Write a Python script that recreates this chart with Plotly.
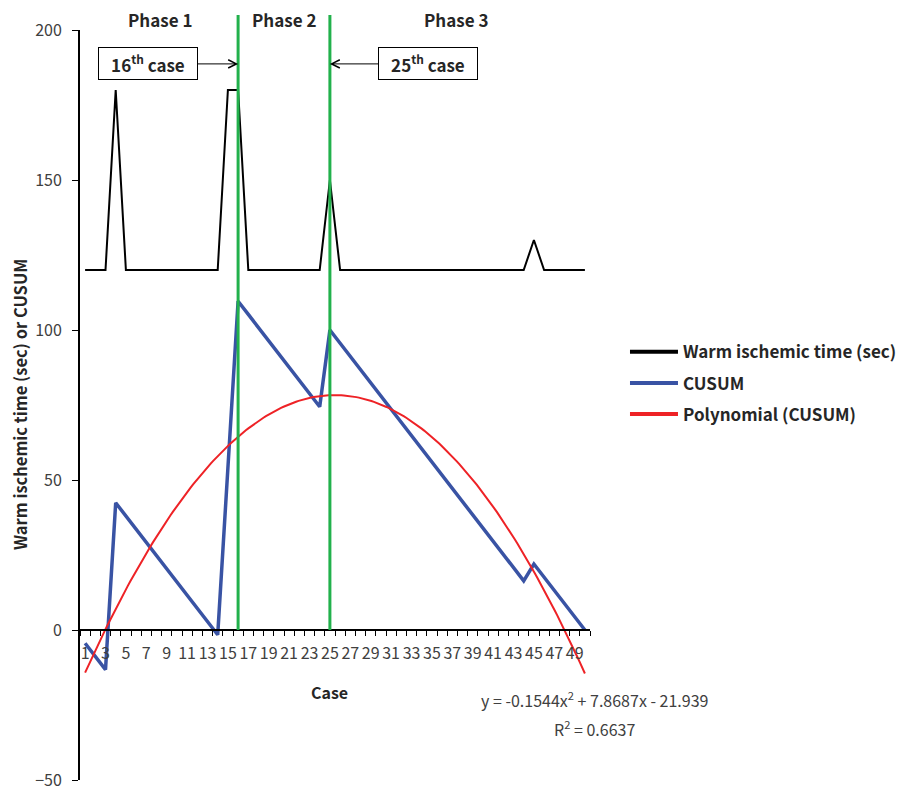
import plotly.graph_objects as go
import numpy as np

# ---------------- data ----------------
cases = list(range(1, 51))
warm_time = [120, 120, 120, 180, 120, 120, 120, 120, 120, 120,
             120, 120, 120, 120, 180, 180, 120, 120, 120, 120,
             120, 120, 120, 120, 150, 120, 120, 120, 120, 120,
             120, 120, 120, 120, 120, 120, 120, 120, 120, 120,
             120, 120, 120, 120, 130, 120, 120, 120, 120, 120]
cusum = [-4.4, -8.8, -13.2, 42.4, 38.0, 33.6, 29.2, 24.8, 20.4, 16.0,
         11.6, 7.2, 2.8, -1.6, 54.0, 109.6, 105.2, 100.8, 96.4, 92.0,
         87.6, 83.2, 78.8, 74.4, 100.0, 95.6, 91.2, 86.8, 82.4, 78.0,
         73.6, 69.2, 64.8, 60.4, 56.0, 51.6, 47.2, 42.8, 38.4, 34.0,
         29.6, 25.2, 20.8, 16.4, 22.0, 17.6, 13.2, 8.8, 4.4, 0.0]
poly_coef = [-0.1544, 7.8687, -21.939]   # trendline shown on chart
phase_cases = [16, 25]
phase_labels = ["Phase 1", "Phase 2", "Phase 3"]
phase_label_x = [8.3, 20.5, 37.4]
x_tick_labels = list(range(1, 50, 2))
y_ticks = [-50, 0, 50, 100, 150, 200]

FONT = "Noto Sans CJK KR, Noto Sans, sans-serif"
TXT = "#262626"
BLACK = "black"
BLUE = "#3953A4"
RED = "#EE2226"
GREEN = "#22B14C"

trend_x = np.linspace(1, 50, 200)
trend_y = np.polyval(poly_coef, trend_x)

fig = go.Figure()
fig.add_trace(go.Scatter(x=cases, y=warm_time, mode="lines", name="Warm ischemic time (sec)",
                         line=dict(color=BLACK, width=2), showlegend=False))
fig.add_trace(go.Scatter(x=cases, y=cusum, mode="lines", name="CUSUM",
                         line=dict(color=BLUE, width=3.5), showlegend=False))
fig.add_trace(go.Scatter(x=trend_x, y=trend_y, mode="lines", name="Polynomial (CUSUM)",
                         line=dict(color=RED, width=2), showlegend=False))
# legend entries (thicker sample lines, as in the reference)
for nm, col, g in [("Warm ischemic time (sec)", BLACK, "a"), ("CUSUM", BLUE, "b"),
                   ("Polynomial (CUSUM)", RED, "c")]:
    fig.add_trace(go.Scatter(x=[None], y=[None], mode="lines", name=nm,
                             line=dict(color=col, width=4), legendgroup=g, showlegend=True))

# green phase lines
for c in phase_cases:
    fig.add_shape(type="line", xref="x", yref="paper", x0=c, x1=c, y0=0.2, y1=1.02,
                  line=dict(color=GREEN, width=3))

annotations = []
for lab, xx in zip(phase_labels, phase_label_x):
    annotations.append(dict(x=xx, y=1.0135, xref="x", yref="paper", text=f"<b>{lab}</b>",
                            xanchor="center", yanchor="middle",
                            showarrow=False, font=dict(size=17, color=TXT, family=FONT)))

# boxed case annotations with arrows
annotations.append(dict(x=16, y=188.7, xref="x", yref="y", text="<b>16<sup>th</sup> case</b>",
                        showarrow=True, ax=-90, ay=0, arrowhead=5, arrowsize=1.6, arrowwidth=1,
                        arrowcolor="black", bordercolor="black", borderwidth=1, width=96, height=29,
                        bgcolor="white", font=dict(size=17, color=TXT, family=FONT)))
annotations.append(dict(x=25, y=188.7, xref="x", yref="y", text="<b>25<sup>th</sup> case</b>",
                        showarrow=True, ax=98, ay=0, arrowhead=5, arrowsize=1.6, arrowwidth=1,
                        arrowcolor="black", bordercolor="black", borderwidth=1, width=96, height=29,
                        bgcolor="white", font=dict(size=17, color=TXT, family=FONT)))

annotations.append(dict(x=0.49, y=0.117, xref="paper", yref="paper", text="<b>Case</b>",
                        xanchor="center", yanchor="middle",
                        showarrow=False, font=dict(size=16, color=TXT, family=FONT)))
annotations.append(dict(x=-0.1176, y=0.5, xref="paper", yref="paper",
                        text="<b>Warm ischemic time (sec) or CUSUM</b>", textangle=-90,
                        xanchor="center", yanchor="middle",
                        showarrow=False, font=dict(size=16.5, color=TXT, family=FONT)))
annotations.append(dict(x=1.0098, y=0.1067, xref="paper", yref="paper",
                        text="y = -0.1544x<sup>2</sup> + 7.8687x - 21.939",
                        xanchor="center", yanchor="middle",
                        showarrow=False, font=dict(size=16, color="#404040", family=FONT)))
annotations.append(dict(x=1.0098, y=0.0693, xref="paper", yref="paper",
                        text="R<sup>2</sup> = 0.6637", xanchor="center", yanchor="middle",
                        showarrow=False, font=dict(size=16, color="#404040", family=FONT)))

fig.update_layout(
    width=905, height=786,
    margin=dict(l=80, r=315, t=30, b=6, autoexpand=False),
    plot_bgcolor="white", paper_bgcolor="white",
    font=dict(family=FONT, color="#404040"),
    annotations=annotations,
    showlegend=True,
    legend=dict(x=1.0686, y=0.529, xanchor="left", yanchor="middle",
                font=dict(size=17, color=TXT, family=FONT, weight="bold"),
                tracegroupgap=6, itemwidth=48, bgcolor="rgba(0,0,0,0)"),
    xaxis=dict(range=[0.5, 50.5], tickmode="array", tickvals=x_tick_labels,
               ticktext=[str(v) for v in x_tick_labels], ticks="",
               showline=True, linecolor="black", linewidth=2,
               anchor="free", position=0.2, showgrid=False, zeroline=False,
               ticklabelstandoff=9, automargin=False,
               tickfont=dict(size=16, color="#404040", family=FONT),
               minor=dict(tickmode="array", tickvals=[v + 0.5 for v in range(0, 51)],
                          ticks="outside", ticklen=5, tickcolor="black", tickwidth=1,
                          showgrid=False)),
    yaxis=dict(range=[-50, 200], tickmode="array", tickvals=y_ticks,
               ticks="outside", ticklen=6, tickcolor="black",
               showline=True, linecolor="black", linewidth=2,
               showgrid=False, zeroline=False, ticklabelstandoff=7, automargin=False,
               ticklabeloverflow="allow",
               tickfont=dict(size=16, color="#404040", family=FONT)),
)

fig.write_html("out.html", config={"displayModeBar": False},
               post_script="document.body.style.margin='0';")
